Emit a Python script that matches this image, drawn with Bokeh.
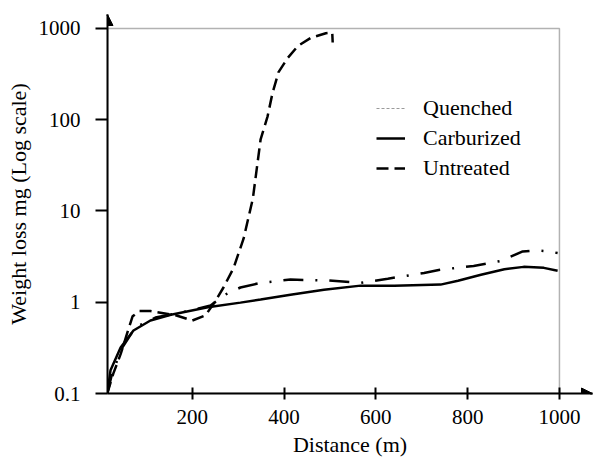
from bokeh.plotting import figure
from bokeh.models import (Range1d, FixedTicker, Arrow, NormalHead, BoxAnnotation,
                          Legend, LegendItem)
from bokeh.embed import file_html
from bokeh.resources import INLINE

# ---- data ----
x_ticks = [200, 400, 600, 800, 1000]
y_ticks = [0.1, 1, 10, 100, 1000]
x_title = "Distance (m)"
y_title = "Weight loss mg (Log scale)"

quenched_x = [15, 26, 48, 76, 120, 185, 240, 270, 305, 349, 414, 495, 567, 626, 705, 737, 813, 872, 920, 949, 977, 996]
quenched_y = [0.1, 0.17, 0.32, 0.53, 0.68, 0.79, 0.92, 1.2, 1.45, 1.63, 1.77, 1.73, 1.63, 1.81, 2.09, 2.26, 2.5, 2.83, 3.6, 3.7, 3.6, 3.46]

carb_x = [15, 22, 44, 72, 109, 159, 234, 305, 349, 414, 487, 567, 640, 741, 779, 829, 880, 922, 966, 996]
carb_y = [0.1, 0.18, 0.32, 0.49, 0.63, 0.74, 0.88, 0.99, 1.07, 1.21, 1.37, 1.52, 1.52, 1.56, 1.72, 2.0, 2.3, 2.44, 2.38, 2.21]

untr_x = [15, 28, 44, 59, 70, 85, 109, 164, 200, 229, 251, 268, 290, 312, 332, 349, 364, 375, 388, 408, 430, 458, 491, 505, 506]
untr_y = [0.1, 0.165, 0.27, 0.47, 0.7, 0.8, 0.8, 0.72, 0.63, 0.72, 1.04, 1.45, 2.37, 5.0, 13.6, 61, 108, 197, 332, 474, 640, 786, 886, 900, 700]

X0, X1 = 15.4, 1072
Y0, Y1 = 0.1, 1420
FONT = "Liberation Serif"

p = figure(width=594, height=459, x_range=Range1d(X0, X1), y_range=Range1d(Y0, Y1),
           y_axis_type="log", output_backend="svg", toolbar_location=None,
           min_border_left=107, min_border_right=2, min_border_top=14, min_border_bottom=66)
p.outline_line_color = None
p.grid.visible = False

# axes
for ax in (p.xaxis[0], p.yaxis[0]):
    ax.axis_line_color = "black"
    ax.axis_line_width = 2
    ax.major_tick_line_color = "black"
    ax.major_tick_line_width = 2
    ax.minor_tick_line_color = None
    ax.major_label_text_font = FONT
    ax.major_label_text_font_size = "21px"
    ax.major_label_text_color = "black"
    ax.axis_label_text_font = FONT
    ax.axis_label_text_font_size = "22px"
    ax.axis_label_text_font_style = "normal"
    ax.axis_label_text_color = "black"

p.xaxis.ticker = FixedTicker(ticks=x_ticks)
p.xaxis.major_tick_in = 6
p.xaxis.major_tick_out = 6
p.xaxis.major_label_standoff = 10
p.xaxis.axis_label = x_title
p.xaxis.axis_label_standoff = 5

p.yaxis.ticker = FixedTicker(ticks=y_ticks)
p.yaxis.major_label_overrides = {t: str(t) for t in y_ticks}
p.yaxis.major_tick_in = 0
p.yaxis.major_tick_out = 12
p.yaxis.major_label_standoff = 15
p.yaxis.axis_label = y_title
p.yaxis.axis_label_standoff = 5

# frame box (top and right)
p.add_layout(BoxAnnotation(left=X0, right=1000, bottom=Y0, top=1000,
                           fill_alpha=0, line_color="black", line_width=1.5))

# axis arrows
p.add_layout(Arrow(end=NormalHead(size=11, fill_color="black", line_color="black"),
                   x_start=X1 - 5, y_start=Y0, x_end=X1, y_end=Y0,
                   line_color="black", line_width=2))
p.add_layout(Arrow(end=NormalHead(size=11, fill_color="black", line_color="black"),
                   x_start=X0, y_start=Y1 * 0.97, x_end=X0, y_end=Y1,
                   line_color="black", line_width=2))

# curves
rq = p.line(quenched_x, quenched_y, line_color="black", line_width=2.5, line_dash="20 12 2 12")
rc = p.line(carb_x, carb_y, line_color="black", line_width=2.5)
ru = p.line(untr_x, untr_y, line_color="black", line_width=2.5, line_dash="12 6")

# legend sample for Quenched is a thin grey dashed stroke (single point: draws nothing in the plot)
rq_leg = p.line(quenched_x[:1], quenched_y[:1], line_color="#9a9a9a", line_width=1.2, line_dash="3 2")

legend = Legend(items=[LegendItem(label="Quenched", renderers=[rq_leg]),
                       LegendItem(label="Carburized", renderers=[rc]),
                       LegendItem(label="Untreated", renderers=[ru])],
                location=(269, 212))
legend.border_line_color = None
legend.background_fill_alpha = 0
legend.padding = 0
legend.margin = 0
legend.spacing = 4
legend.glyph_width = 29
legend.glyph_height = 20
legend.label_standoff = 18
legend.label_text_font = FONT
legend.label_text_font_size = "22px"
legend.label_text_color = "black"
p.add_layout(legend)

open("out.html", "w").write(file_html(p, INLINE))
